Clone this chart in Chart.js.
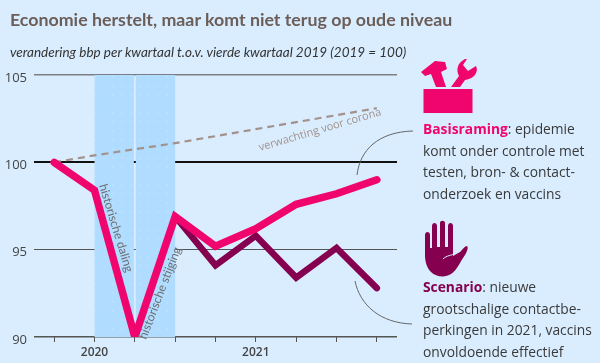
<!DOCTYPE html>
<html>
<head>
<meta charset="utf-8">
<script src="https://cdn.jsdelivr.net/npm/chart.js@4"></script>
<style>
  html, body { margin: 0; padding: 0; background: #d9edff; }
  #wrap { position: relative; width: 600px; height: 363px; overflow: hidden; font-family: "Open Sans", sans-serif; }
  canvas { position: absolute; left: 0; top: 0; }
  #overlay { position: absolute; left: 0; top: 0; }
  .title { position: absolute; left: 10px; top: 8px; font-family: Lato, sans-serif; font-size: 17.8px; font-weight: 700; color: #6b5d57; white-space: nowrap; }
  .sub { position: absolute; left: 10px; top: 44px; font-family: Lato, sans-serif; font-size: 13.5px; font-style: italic; color: #333; white-space: nowrap; }
  .note { position: absolute; left: 423px; font-size: 13.8px; line-height: 21.5px; color: #3a3a3a; white-space: nowrap; }
  .note b { font-weight: 700; }
</style>
</head>
<body>
<div id="wrap">
  <canvas id="chart" width="600" height="363"></canvas>
  <div class="title">Economie herstelt, maar komt niet terug op oude niveau</div>
  <div class="sub">verandering bbp per kwartaal t.o.v. vierde kwartaal 2019 (2019 = 100)</div>
  <div class="note" style="top:118px"><b style="color:#f0056e">Basisraming</b>: epidemie<br>komt onder controle met<br>testen, bron- &amp; contact-<br>onderzoek en vaccins</div>
  <div class="note" style="top:276px"><b style="color:#85004f">Scenario</b>: nieuwe<br>grootschalige contactbe-<br>perkingen in 2021, vaccins<br>onvoldoende effectief</div>
  <svg id="overlay" width="600" height="363">
    <path d="M357 175 C360 150 378 132 413 131" fill="none" stroke="#666" stroke-width="1"/>
    <path d="M355 281 C360 305 380 323 412 324" fill="none" stroke="#666" stroke-width="1"/>
    <g fill="#f0056e">
      <rect x="423.5" y="89" width="49" height="24"/>
      <path d="M421 72 L435 61 L445 62 L447 69 L441 72 L446 87 L436 87 L431 74 L425 76 Z"/>
      <path d="M451 87 L459 76 C456 70 457 63 465 59 L467 59 L463 65 L468 71 L476 66 C479 72 474 79 465 80 L460 87 Z"/>
    </g>
    <path fill="#85004f" d="M425 235 C425 231 430 231 430 235 L430 248 L432 248 L432 226 C432 222 437 222 437 226 L437 247 L440 247 L440 223 C440 220 445 220 445 223 L445 247 L448 247 L448 226 C448 222 453 222 453 226 L453 256 L460 252 C463 249 465 246 467 246 C469 248 466 254 463 258 C459 264 457 270 451 274 C445 278 436 277 431 272 C427 268 425 262 425 255 Z"/>
    <path d="M443 259 C447 255 451 256 456 253" fill="none" stroke="#d9edff" stroke-width="1"/>
  </svg>
</div>
<script>
const categories = ['', '2020', '', '', '', '2021', '', '', ''];
const yTicks = [90, 95, 100, 105];
const basisraming = [100, 98.4, 90, 96.9, 95.2, 96.2, 97.6, 98.2, 99];
const scenario = [null, null, null, 96.9, 94.1, 95.8, 93.4, 95.1, 92.8];
const verwachting = [100, 100.4, 100.75, 101.1, 101.5, 101.9, 102.3, 102.7, 103.1];
const bandDaling = [1, 2];
const bandStijging = [2, 3];
const labelVerwachting = 'verwachting voor corona';
const labelDaling = 'historische daling';
const labelStijging = 'historische stijging';

// dotted blue bands behind the lines
function bandPattern(ctx) {
    const c = document.createElement('canvas');
    c.width = 9; c.height = 9;
    const p = c.getContext('2d');
    p.fillStyle = '#b0dcff';
    p.fillRect(0, 0, 9, 9);
    p.fillStyle = '#b9e0ff';
    p.fillRect(4, 4, 2, 2);
    return ctx.createPattern(c, 'repeat');
}

const bandsPlugin = {
    id: 'bands',
    beforeDatasetsDraw(chart) {
        const { ctx, chartArea, scales: { x } } = chart;
        ctx.save();
        ctx.fillStyle = bandPattern(ctx);
        ctx.fillRect(x.getPixelForValue(bandDaling[0]), chartArea.top, x.getPixelForValue(bandDaling[1]) - x.getPixelForValue(bandDaling[0]) - 1, chartArea.height);
        ctx.fillRect(x.getPixelForValue(bandStijging[0]) + 1, chartArea.top, x.getPixelForValue(bandStijging[1]) - x.getPixelForValue(bandStijging[0]) - 1, chartArea.height);
        ctx.restore();
    }
};

function rotatedText(ctx, text, px, py, deg, color, font) {
    ctx.save();
    ctx.translate(px, py);
    ctx.rotate(deg * Math.PI / 180);
    ctx.fillStyle = color;
    ctx.font = font;
    ctx.textAlign = 'center';
    ctx.textBaseline = 'middle';
    ctx.fillText(text, 0, 0);
    ctx.restore();
}

const labelsPlugin = {
    id: 'lineLabels',
    afterDatasetsDraw(chart) {
        const { ctx } = chart;
        rotatedText(ctx, labelVerwachting, 320, 130, -16.5, '#a3918b', '11px "Open Sans"');
        rotatedText(ctx, labelDaling, 116, 228, 73, '#6e6e6e', '12px Lato');
        rotatedText(ctx, labelStijging, 160, 293, -69, '#6e6e6e', '12px Lato');
    }
};

new Chart(document.getElementById('chart'), {
    type: 'line',
    data: {
        labels: categories,
        datasets: [
            { label: 'Basisraming', data: basisraming, borderColor: '#f0056e', borderWidth: 7.5, borderCapStyle: 'round', pointRadius: 0, tension: 0, order: 1 },
            { label: 'Scenario', data: scenario, borderColor: '#85004f', borderWidth: 6.5, borderCapStyle: 'round', pointRadius: 0, tension: 0, order: 2 },
            { label: 'Verwachting voor corona', data: verwachting, borderColor: '#a3918b', borderWidth: 2.2, borderDash: [7, 5], pointRadius: 0, tension: 0, order: 3 }
        ]
    },
    options: {
        responsive: false,
        animation: false,
        layout: { padding: { left: 0, right: 203, top: 75, bottom: 0 } },
        plugins: { legend: { display: false }, title: { display: false }, tooltip: { enabled: false } },
        scales: {
            x: {
                offset: true,
                afterFit(axis) { axis.height = 26; },
                border: { display: false },
                grid: { offset: false, drawOnChartArea: false, drawTicks: true, tickLength: 5, color: '#555', lineWidth: 1 },
                ticks: { autoSkip: false, maxRotation: 0, padding: 3, color: '#444', font: { family: 'Open Sans', size: 12, weight: 600 } }
            },
            y: {
                min: 90,
                max: 105,
                afterFit(axis) { axis.width = 34; },
                afterBuildTicks(axis) { axis.ticks = yTicks.map(v => ({ value: v })); },
                border: { display: false },
                grid: {
                    drawTicks: false,
                    color: ctx => ctx.tick.value === 100 ? '#111' : ctx.tick.value === 105 ? '#7c7f85' : '#555',
                    lineWidth: ctx => ctx.tick.value === 100 ? 2 : ctx.tick.value === 95 ? 1.1 : 1.6
                },
                ticks: { padding: 7, labelOffset: 3, color: '#444', font: { family: 'Open Sans', size: 13 } }
            }
        }
    },
    plugins: [bandsPlugin, labelsPlugin]
});
</script>
</body>
</html>
